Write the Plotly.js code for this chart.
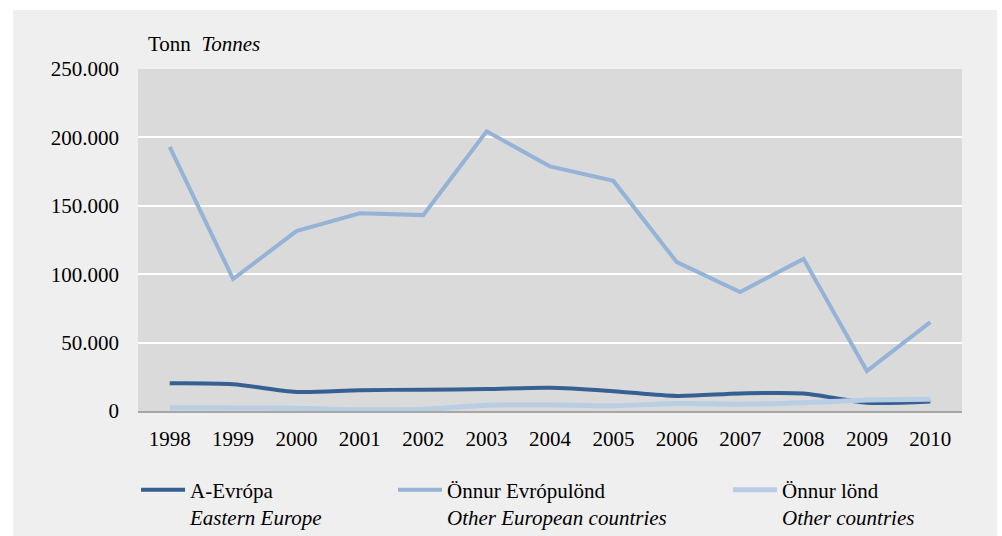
<!DOCTYPE html>
<html>
<head>
<meta charset="utf-8">
<script src="https://cdn.plot.ly/plotly-3.0.1.min.js"></script>
<style>
  html, body { margin: 0; padding: 0; background: #ffffff; }
  #chart { position: absolute; left: 13px; top: 10px; width: 984px; height: 526px; }
</style>
</head>
<body>
<div id="chart"></div>
<script>
// Data
const years = ['1998','1999','2000','2001','2002','2003','2004','2005','2006','2007','2008','2009','2010'];
const easternEurope = [20200, 19500, 13900, 15200, 15600, 16000, 17000, 14500, 11000, 12800, 12800, 6000, 7000];
const otherEuropean = [193000, 96500, 131500, 144500, 143200, 204500, 178800, 168200, 108800, 87000, 111200, 29200, 65000];
const otherCountries = [2300, 2200, 2000, 1000, 1200, 4200, 4500, 3800, 5500, 5000, 6000, 8000, 8500];
const yTickVals = [0, 50000, 100000, 150000, 200000, 250000];
const yTickText = ['0', '50.000', '100.000', '150.000', '200.000', '250.000'];
const seriesNames = [
  'A-Evrópa<br><i>Eastern Europe</i>',
  'Önnur Evrópulönd<br><i>Other European countries</i>',
  'Önnur lönd<br><i>Other countries</i>'
];

const FONT = 'Liberation Serif';

const traces = [
  { x: years, y: easternEurope, name: seriesNames[0], type: 'scatter', mode: 'lines', legend: 'legend',
    line: { color: '#376092', width: 4, shape: 'spline', smoothing: 0.8 } },
  { x: years, y: otherEuropean, name: seriesNames[1], type: 'scatter', mode: 'lines', legend: 'legend2',
    line: { color: '#95b3d7', width: 4 } },
  { x: years, y: otherCountries, name: seriesNames[2], type: 'scatter', mode: 'lines', legend: 'legend3',
    line: { color: '#b9cde5', width: 5, shape: 'spline', smoothing: 0.8 } }
];

function legendAt(x) {
  return {
    orientation: 'h', x: x, xref: 'paper', xanchor: 'left',
    y: 0.126, yref: 'container', yanchor: 'top',
    valign: 'top', bgcolor: 'rgba(0,0,0,0)', itemwidth: 44,
    font: { family: FONT, size: 21, color: '#000000' }
  };
}

const layout = {
  width: 984, height: 526,
  paper_bgcolor: '#efefef',
  plot_bgcolor: '#dadada',
  margin: { l: 125, r: 35, t: 59, b: 125 },
  font: { family: FONT, size: 21, color: '#000000' },
  showlegend: true,
  legend: legendAt(-0.0024),
  legend2: legendAt(0.3095),
  legend3: legendAt(0.716),
  xaxis: {
    type: 'category', range: [-0.5, 12.5], showgrid: false,
    showline: true, linecolor: '#a6a6a6', linewidth: 1.5,
    ticks: '', ticklabelstandoff: 8, zeroline: false, fixedrange: true,
    tickfont: { family: FONT, size: 21, color: '#000000' }
  },
  yaxis: {
    range: [0, 250000], tickvals: yTickVals, ticktext: yTickText,
    showgrid: true, gridcolor: '#ffffff', gridwidth: 2,
    zeroline: false, showline: false, ticks: '', ticklabelstandoff: 18,
    fixedrange: true,
    tickfont: { family: FONT, size: 21, color: '#000000' }
  },
  annotations: [
    { text: 'Tonn&nbsp; <i>Tonnes</i>', xref: 'paper', yref: 'paper', x: 0.0097, y: 1.032,
      xanchor: 'left', yanchor: 'bottom', showarrow: false,
      font: { family: FONT, size: 21, color: '#000000' } }
  ]
};

Plotly.newPlot('chart', traces, layout, { displayModeBar: false, staticPlot: true });
</script>
</body>
</html>
